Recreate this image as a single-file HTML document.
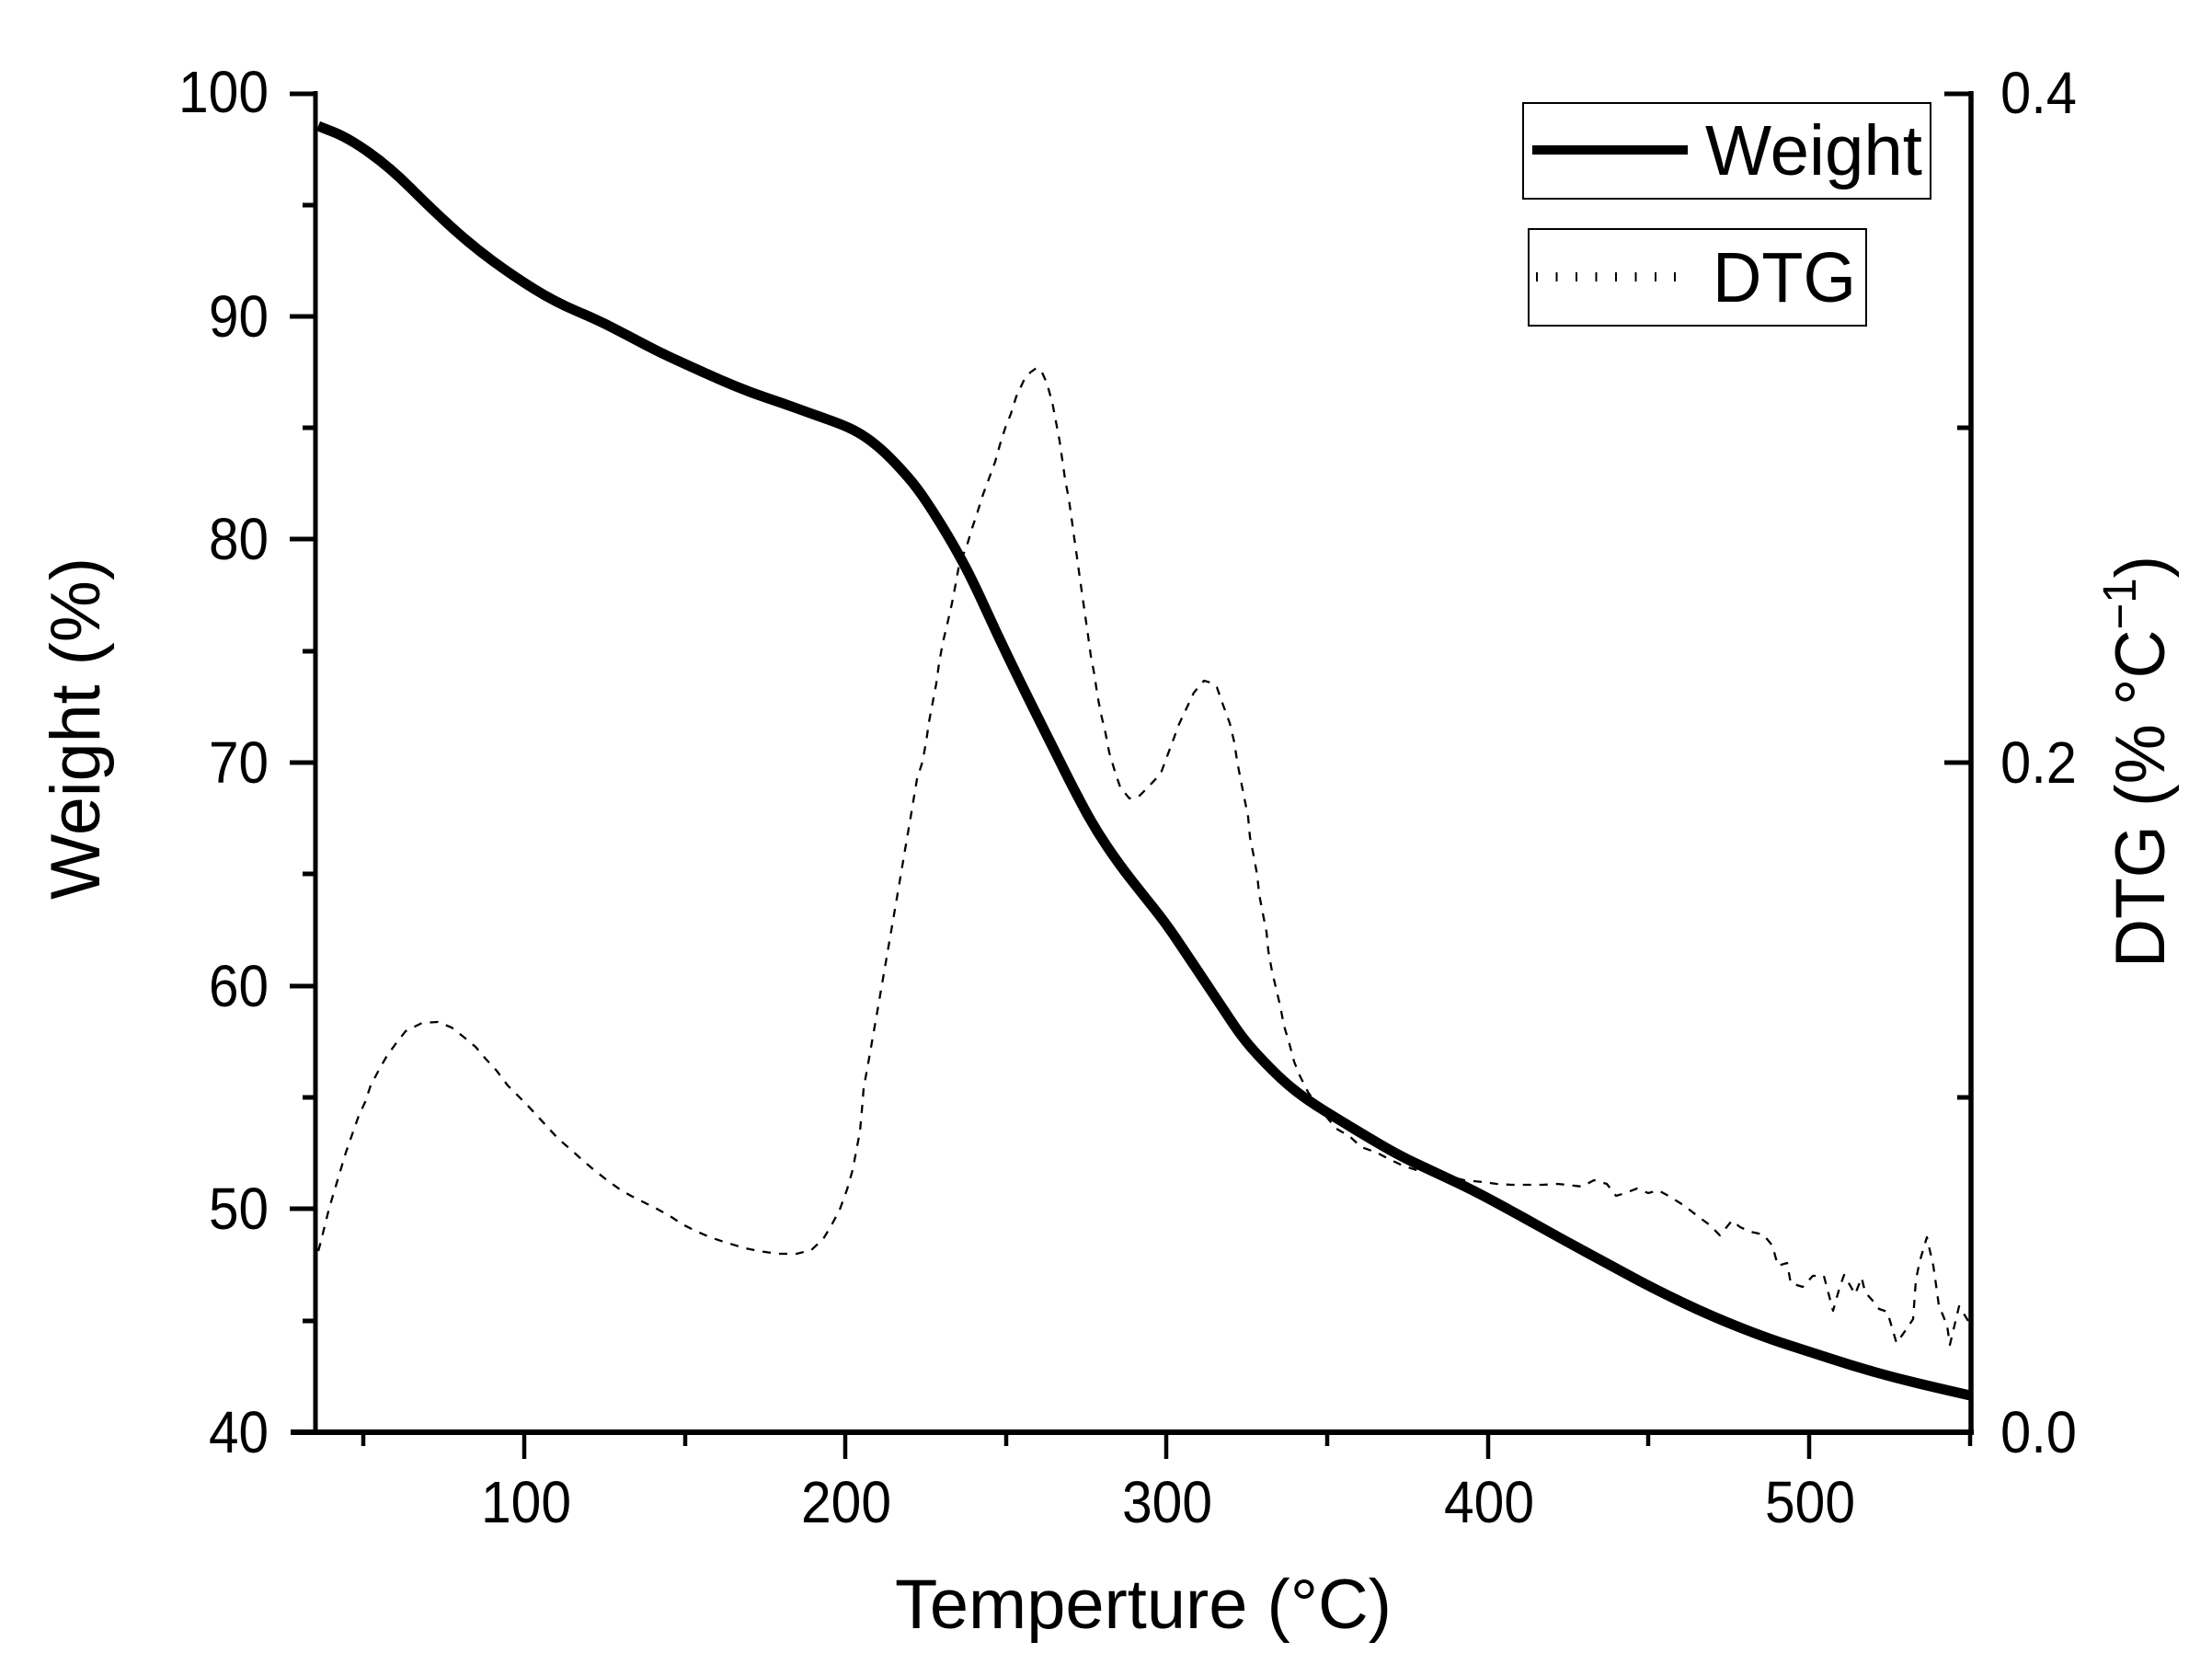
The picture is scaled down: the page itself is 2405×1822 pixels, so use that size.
<!DOCTYPE html>
<html><head><meta charset="utf-8"><style>html,body{margin:0;padding:0;background:#fff;}svg{display:block}</style></head>
<body>
<svg xmlns="http://www.w3.org/2000/svg" width="2405" height="1822" viewBox="0 0 2405 1822" font-family="'Liberation Sans', Arial, sans-serif" fill="#000">
<rect width="2405" height="1822" fill="#fff"/>

<!-- DTG curve -->
<polyline fill="none" stroke="#000" stroke-width="2.3" stroke-dasharray="9 9" stroke-linejoin="round" points="
346,1360 348,1353 353,1333 358,1313 364,1293 370,1273 376,1253 383,1233 390,1213 397,1198 403,1180 411,1165 420,1149 430,1135 441,1121 459,1112 476,1111 491,1117 505,1128 517,1138 528,1151 540,1164 552,1180 572,1200 584,1213 596,1226 607,1238 621,1250 633,1261 646,1272 660,1283 674,1293 686,1300 700,1307 714,1314 730,1323 742,1331 756,1338 772,1345 787,1350 810,1357 825,1360 846,1363 866,1363 882,1359 895,1347 904,1332 913,1315 921,1293 927,1272 931,1251 935,1230 937,1208 939,1183 945,1150 955,1093 965,1035 975,977 985,918 991,883 997,847 1003,828 1007,806 1010,785 1014,764 1018,743 1021,721 1025,699 1030,678 1035,656 1039,635 1043,613 1051,594 1057,574 1063,556 1069,537 1075,521 1082,502 1087,484 1093,465 1099,450 1105,431 1113,414 1120,405 1127,400 1133,405 1138,416 1144,437 1148,458 1152,479 1155,500 1158,521 1162,542 1165,563 1168,585 1171,606 1174,628 1177,649 1180,670 1183,691 1186,713 1190,734 1193,755 1197,776 1202,797 1206,818 1212,838 1218,856 1228,868 1238,866 1247,857 1262,841 1269,822 1275,806 1282,787 1291,768 1298,753 1309,740 1316,742 1323,747 1330,767 1337,786 1342,807 1345,827 1349,848 1353,868 1357,888 1359,910 1363,930 1367,952 1369,972 1373,993 1377,1013 1379,1034 1383,1056 1388,1077 1392,1094 1396,1115 1402,1135 1407,1154 1413,1169 1422,1187 1437,1208 1453,1227 1467,1235 1480,1247 1497,1253 1510,1260 1525,1267 1543,1273 1573,1278 1592,1283 1612,1285 1627,1287 1643,1288 1662,1288 1678,1288 1693,1287 1703,1288 1720,1290 1733,1283 1747,1287 1757,1300 1767,1297 1780,1292 1792,1297 1803,1294 1814,1300 1827,1308 1838,1316 1847,1323 1858,1331 1870,1343 1883,1327 1892,1334 1903,1339 1917,1342 1927,1354 1933,1376 1943,1373 1947,1395 1960,1399 1971,1387 1983,1387 1993,1425 2000,1400 2005,1386 2017,1407 2024,1389 2028,1405 2037,1415 2043,1423 2052,1426 2062,1460 2072,1446 2080,1434 2083,1392 2087,1372 2095,1345 2102,1376 2105,1397 2108,1419 2117,1441 2120,1462 2130,1420 2140,1436"/>

<!-- Weight curve (smoothed) -->
<path fill="none" stroke="#000" stroke-width="11" stroke-linejoin="round" d="M346,137 L362.5,143.5 Q379,150 401.5,166 Q424,182 446.5,204.5 Q469,227 491,247 Q513,267 535.5,283.5 Q558,300 580.5,314 Q603,328 626.5,338 Q650,348 666.5,356.5 Q683,365 700,374 Q717,383 733.5,390.5 Q750,398 766.5,405.5 Q783,413 800,420 Q817,427 833.5,432.5 Q850,438 866.5,444 Q883,450 900,456 Q917,462 927,467 Q937,472 947,479.5 Q957,487 967,497 Q977,507 987,518.5 Q997,530 1007,545 Q1017,560 1027,576.5 Q1037,593 1047,611.5 Q1057,630 1070,658.5 Q1083,687 1096.5,715 Q1110,743 1123.5,770 Q1137,797 1143.5,810 Q1150,823 1158.5,840 Q1167,857 1178.5,878.5 Q1190,900 1203.5,920 Q1217,940 1230,956.5 Q1243,973 1255,988 Q1267,1003 1278.5,1020 Q1290,1037 1300,1052 Q1310,1067 1320,1082 Q1330,1097 1340,1112 Q1350,1127 1360,1138.5 Q1370,1150 1383.5,1163.5 Q1397,1177 1410,1187 Q1423,1197 1440,1207.5 Q1457,1218 1473.5,1228 Q1490,1238 1506.5,1247.5 Q1523,1257 1540,1265 Q1557,1273 1578.5,1283 Q1600,1293 1625,1306.5 Q1650,1320 1675,1334 Q1700,1348 1725,1361.5 Q1750,1375 1775,1388.5 Q1800,1402 1830.5,1416.5 Q1861,1431 1891.5,1443 Q1922,1455 1945.5,1462.5 Q1969,1470 1992,1477.5 Q2015,1485 2038,1491.5 Q2061,1498 2084,1503.5 Q2107,1509 2124.5,1513 L2142,1517"/>

<!-- Axes -->
<g stroke="#000" fill="none">
  <line x1="343" y1="99" x2="343" y2="1560" stroke-width="5"/>
  <line x1="316" y1="1557" x2="2146" y2="1557" stroke-width="6"/>
  <line x1="2143" y1="99" x2="2143" y2="1560" stroke-width="5.5"/>
  <g stroke-width="5">
    <line x1="315" y1="102" x2="343" y2="102"/>
    <line x1="315" y1="344" x2="343" y2="344"/>
    <line x1="315" y1="586" x2="343" y2="586"/>
    <line x1="315" y1="829" x2="343" y2="829"/>
    <line x1="315" y1="1072" x2="343" y2="1072"/>
    <line x1="315" y1="1314" x2="343" y2="1314"/>
    <line x1="329" y1="223" x2="343" y2="223"/>
    <line x1="329" y1="465" x2="343" y2="465"/>
    <line x1="329" y1="708" x2="343" y2="708"/>
    <line x1="329" y1="950" x2="343" y2="950"/>
    <line x1="329" y1="1193" x2="343" y2="1193"/>
    <line x1="329" y1="1436" x2="343" y2="1436"/>
    <line x1="2114" y1="102" x2="2145" y2="102"/>
    <line x1="2114" y1="829" x2="2143" y2="829"/>
    <line x1="2128" y1="465" x2="2143" y2="465"/>
    <line x1="2128" y1="1193" x2="2143" y2="1193"/>
  </g>
  <g stroke-width="4.5">
    <line x1="570" y1="1557" x2="570" y2="1586"/>
    <line x1="919" y1="1557" x2="919" y2="1586"/>
    <line x1="1268" y1="1557" x2="1268" y2="1586"/>
    <line x1="1618" y1="1557" x2="1618" y2="1586"/>
    <line x1="1967" y1="1557" x2="1967" y2="1586"/>
    <line x1="395" y1="1557" x2="395" y2="1572"/>
    <line x1="745" y1="1557" x2="745" y2="1572"/>
    <line x1="1094" y1="1557" x2="1094" y2="1572"/>
    <line x1="1443" y1="1557" x2="1443" y2="1572"/>
    <line x1="1792" y1="1557" x2="1792" y2="1572"/>
    <line x1="2142" y1="1557" x2="2142" y2="1572"/>
  </g>
</g>

<!-- Tick labels -->
<g font-size="64" text-anchor="end" lengthAdjust="spacingAndGlyphs">
  <text x="292" y="122" textLength="98" lengthAdjust="spacingAndGlyphs">100</text>
  <text x="292" y="366" textLength="65" lengthAdjust="spacingAndGlyphs">90</text>
  <text x="292" y="608" textLength="65" lengthAdjust="spacingAndGlyphs">80</text>
  <text x="292" y="851" textLength="65" lengthAdjust="spacingAndGlyphs">70</text>
  <text x="292" y="1094" textLength="65" lengthAdjust="spacingAndGlyphs">60</text>
  <text x="292" y="1336" textLength="65" lengthAdjust="spacingAndGlyphs">50</text>
  <text x="292" y="1579" textLength="65" lengthAdjust="spacingAndGlyphs">40</text>
</g>
<g font-size="64" text-anchor="start">
  <text x="2175" y="123" textLength="83" lengthAdjust="spacingAndGlyphs">0.4</text>
  <text x="2175" y="851" textLength="83" lengthAdjust="spacingAndGlyphs">0.2</text>
  <text x="2175" y="1579" textLength="83" lengthAdjust="spacingAndGlyphs">0.0</text>
</g>
<g font-size="64" text-anchor="middle">
  <text x="572" y="1655" textLength="98" lengthAdjust="spacingAndGlyphs">100</text>
  <text x="920" y="1655" textLength="98" lengthAdjust="spacingAndGlyphs">200</text>
  <text x="1269" y="1655" textLength="98" lengthAdjust="spacingAndGlyphs">300</text>
  <text x="1619" y="1655" textLength="98" lengthAdjust="spacingAndGlyphs">400</text>
  <text x="1968" y="1655" textLength="98" lengthAdjust="spacingAndGlyphs">500</text>
</g>

<!-- Axis titles -->
<text x="973" y="1770" font-size="76" textLength="540" lengthAdjust="spacingAndGlyphs">Temperture (°C)</text>
<g transform="translate(108,792) rotate(-90)">
  <text x="0" y="0" font-size="76" text-anchor="middle" textLength="372" lengthAdjust="spacingAndGlyphs">Weight (%)</text>
</g>
<g transform="translate(2353,828) rotate(-90) scale(0.965,1)">
  <text x="0" y="0" font-size="76" text-anchor="middle">DTG (% °C<tspan font-size="51" dy="-31">−1</tspan><tspan dy="31">)</tspan></text>
</g>

<!-- Legend -->
<rect x="1656" y="112" width="443" height="104" fill="none" stroke="#000" stroke-width="2"/>
<line x1="1666" y1="163" x2="1835" y2="163" stroke="#000" stroke-width="10"/>
<text x="1854" y="190" font-size="77" textLength="236" lengthAdjust="spacingAndGlyphs">Weight</text>

<rect x="1662" y="249" width="367" height="105" fill="none" stroke="#000" stroke-width="2"/>
<g stroke="#000" stroke-width="2">
  <line x1="1671" y1="296" x2="1671" y2="306"/>
  <line x1="1692.5" y1="296" x2="1692.5" y2="306"/>
  <line x1="1714" y1="296" x2="1714" y2="306"/>
  <line x1="1735.5" y1="296" x2="1735.5" y2="306"/>
  <line x1="1757" y1="296" x2="1757" y2="306"/>
  <line x1="1778.5" y1="296" x2="1778.5" y2="306"/>
  <line x1="1800" y1="296" x2="1800" y2="306"/>
  <line x1="1821" y1="296" x2="1821" y2="306"/>
</g>
<text x="1862" y="328" font-size="77" textLength="156" lengthAdjust="spacingAndGlyphs">DTG</text>
</svg>
</body></html>
